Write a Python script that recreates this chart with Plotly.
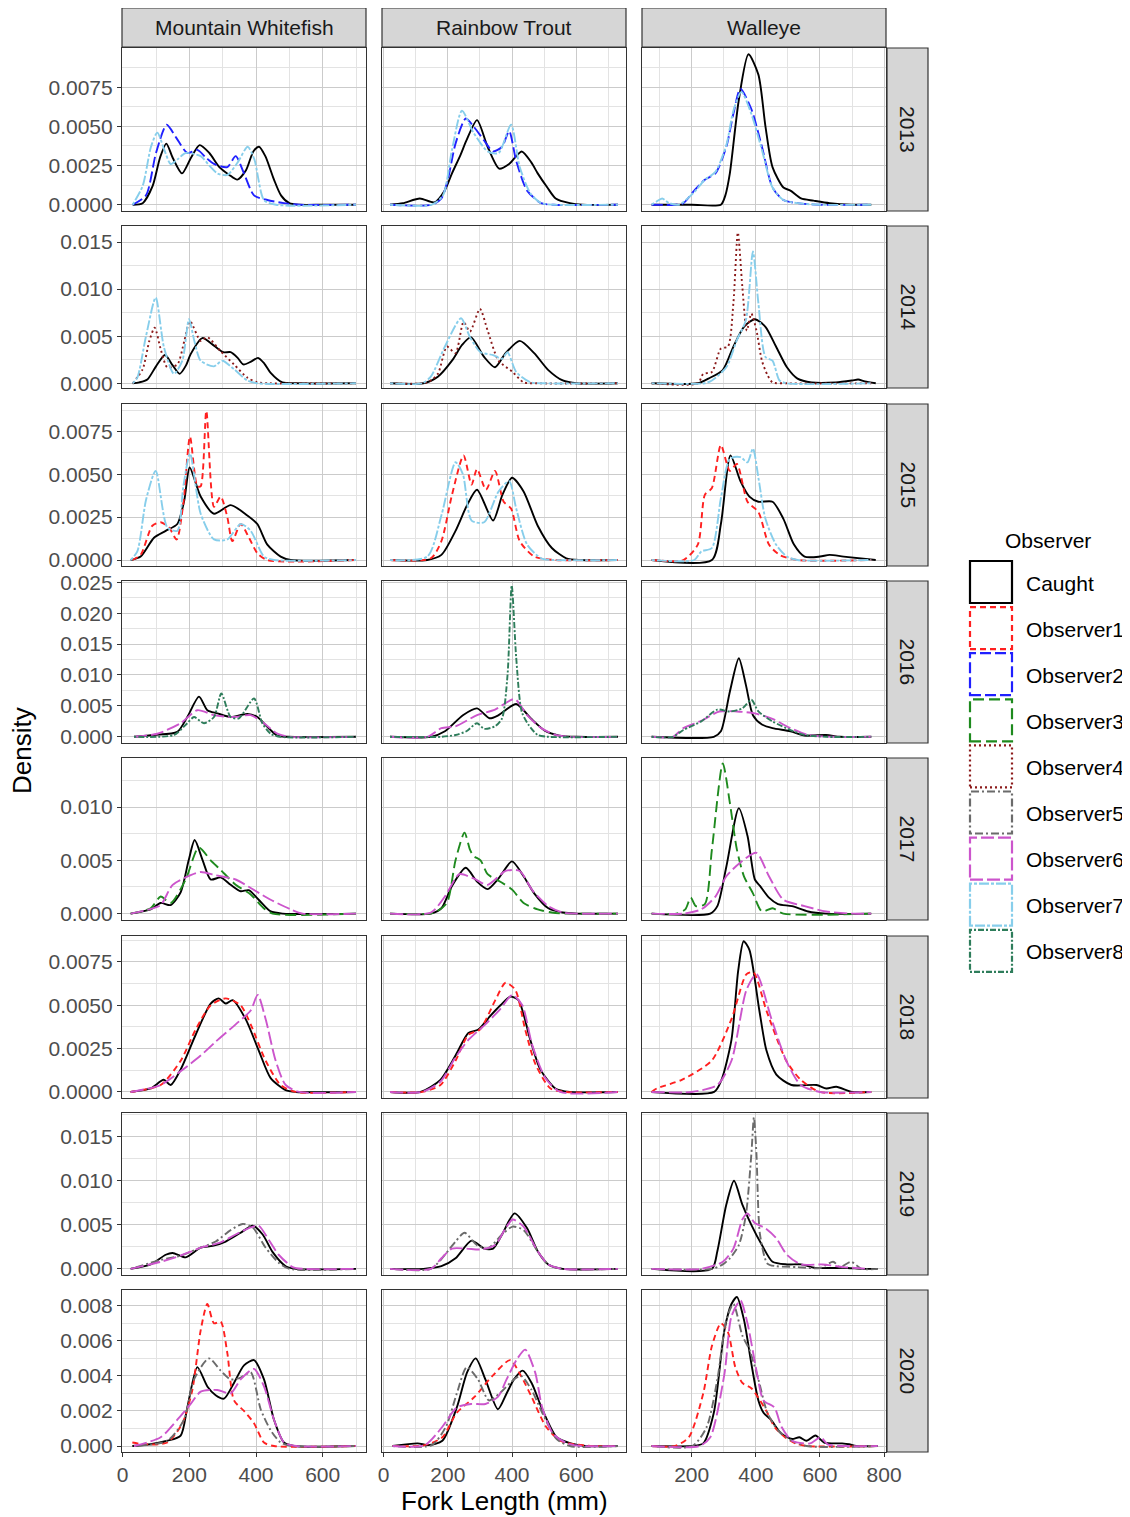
import plotly.graph_objects as go

# ---------------- data ----------------
SPECIES = ["Mountain Whitefish", "Rainbow Trout", "Walleye"]
YEARS = [2013, 2014, 2015, 2016, 2017, 2018, 2019, 2020]
OBSERVERS = ["Caught", "Observer1", "Observer2", "Observer3", "Observer4",
             "Observer5", "Observer6", "Observer7", "Observer8"]

X_TICKS = [[0, 200, 400, 600], [0, 200, 400, 600], [200, 400, 600, 800]]
Y_TICKS = [
    [0.0, 0.0025, 0.005, 0.0075],
    [0.0, 0.005, 0.010, 0.015],
    [0.0, 0.0025, 0.005, 0.0075],
    [0.0, 0.005, 0.010, 0.015, 0.020, 0.025],
    [0.0, 0.005, 0.010],
    [0.0, 0.0025, 0.005, 0.0075],
    [0.0, 0.005, 0.010, 0.015],
    [0.0, 0.002, 0.004, 0.006, 0.008],
]
Y_TICK_TEXT = [
    ["0.0000", "0.0025", "0.0050", "0.0075"],
    ["0.000", "0.005", "0.010", "0.015"],
    ["0.0000", "0.0025", "0.0050", "0.0075"],
    ["0.000", "0.005", "0.010", "0.015", "0.020", "0.025"],
    ["0.000", "0.005", "0.010"],
    ["0.0000", "0.0025", "0.0050", "0.0075"],
    ["0.000", "0.005", "0.010", "0.015"],
    ["0.000", "0.002", "0.004", "0.006", "0.008"],
]

# (fork length mm, density) points of each density curve
MW_2013_Caught = [(30,0),(60,0.0001),(90,0.0012),(112,0.003),(131,0.0039),(150,0.003),(178,0.002),(205,0.003),(231,0.0038),(260,0.0033),(290,0.0024),(320,0.0019),(344,0.0016),(370,0.0022),(392,0.0034),(409,0.0037),(428,0.0031),(454,0.0016),(475,0.0006),(500,0.0001),(530,0),(600,0),(700,0)]
MW_2013_Obs2 = [(30,0),(70,0.0006),(100,0.0033),(132,0.0051),(160,0.0043),(194,0.0033),(224,0.0035),(250,0.003),(274,0.0026),(314,0.0024),(339,0.0031),(364,0.002),(394,0.0006),(434,0.0003),(484,0.0001),(530,0),(700,0)]
MW_2013_Obs7 = [(30,0),(60,0.0012),(85,0.0037),(104,0.0046),(125,0.0035),(144,0.0026),(165,0.0029),(189,0.0033),(234,0.0031),(260,0.0025),(284,0.002),(314,0.0019),(345,0.0027),(375,0.0037),(395,0.0029),(424,0.0003),(460,0),(700,0)]
RT_2013_Caught = [(20,0),(60,0.0001),(113,0.0004),(158,0.00015),(190,0.0009),(213,0.002),(240,0.0032),(258,0.0041),(291,0.0054),(324,0.0037),(360,0.0023),(391,0.0026),(430,0.0034),(460,0.0027),(480,0.002),(510,0.0011),(536,0.0004),(580,0.0001),(620,0),(730,0)]
RT_2013_Obs2 = [(20,0),(150,0),(180,0.0004),(200,0.0016),(224,0.0039),(256,0.0055),(280,0.005),(313,0.0041),(341,0.0034),(369,0.0037),(391,0.0047),(413,0.0028),(447,0.0009),(491,0.0001),(530,0),(730,0)]
RT_2013_Obs7 = [(20,0),(150,0),(185,0.0006),(213,0.0035),(244,0.006),(280,0.0046),(324,0.0034),(358,0.0033),(397,0.0051),(424,0.0024),(458,0.0007),(491,0.0001),(530,0),(730,0)]
WE_2013_Caught = [(75,0),(200,0),(291,0),(305,0.0006),(319,0.002),(347,0.0067),(377,0.0096),(408,0.0083),(430,0.005),(452,0.0024),(486,0.0011),(508,0.0009),(541,0.0004),(580,0.00026),(630,0.0001),(700,0),(760,0)]
WE_2013_Obs2 = [(75,0),(150,0),(174,0.0001),(208,0.0009),(241,0.0016),(274,0.002),(308,0.0037),(330,0.0058),(352,0.0074),(386,0.0061),(419,0.0037),(452,0.0011),(486,0.0003),(530,0.0001),(600,0),(760,0)]
WE_2013_Obs7 = [(75,0),(90,0.0002),(108,0.0004),(130,0.0001),(160,0),(208,0.0008),(241,0.0016),(274,0.0021),(308,0.0038),(330,0.006),(355,0.0072),(386,0.0058),(419,0.0035),(452,0.0011),(486,0.0003),(530,0.0001),(600,0),(760,0)]

MW_2014_Caught = [(30,0),(50,0.0001),(74,0.0004),(100,0.0018),(127,0.003),(150,0.0019),(171,0.001),(190,0.0019),(204,0.0031),(239,0.0048),(274,0.004),(302,0.0033),(324,0.0033),(345,0.0027),(362,0.002),(385,0.0023),(406,0.0027),(425,0.0021),(444,0.0011),(479,0.0001),(520,0),(700,0)]
MW_2014_Obs4 = [(30,0),(60,0.0015),(80,0.0045),(96,0.0059),(115,0.0035),(134,0.0017),(164,0.002),(185,0.0045),(202,0.0066),(234,0.0045),(254,0.0049),(294,0.0034),(334,0.002),(374,0.0006),(404,0.0001),(440,0),(700,0)]
MW_2014_Obs7 = [(30,0),(44,0.0006),(70,0.005),(99,0.0091),(124,0.0038),(154,0.001),(179,0.0024),(199,0.0068),(215,0.0045),(234,0.0024),(274,0.0018),(299,0.0024),(334,0.0015),(374,0.0003),(404,0),(700,0)]
RT_2014_Caught = [(20,0),(124,0),(169,0.0007),(213,0.0024),(245,0.0041),(272,0.0049),(313,0.0028),(347,0.0017),(380,0.0032),(424,0.0045),(469,0.0032),(513,0.0014),(558,0.0003),(602,0),(730,0)]
RT_2014_Obs4 = [(20,0),(136,0.0001),(169,0.001),(197,0.0039),(224,0.0032),(249,0.0065),(269,0.0055),(300,0.0079),(324,0.0056),(358,0.0024),(402,0.0012),(436,0.0001),(480,0),(730,0)]
RT_2014_Obs7 = [(20,0),(120,0),(147,0.0007),(191,0.0039),(241,0.0069),(269,0.0049),(302,0.0033),(341,0.003),(369,0.0026),(386,0.0033),(413,0.0012),(458,0.0001),(500,0),(730,0)]
WE_2014_Caught = [(75,0),(219,0),(252,0.0005),(297,0.0014),(330,0.0039),(363,0.006),(397,0.0068),(430,0.006),(463,0.0039),(497,0.0017),(530,0.0005),(574,0.0001),(650,0.0001),(700,0.0003),(719,0.0004),(740,0.0002),(774,0)]
WE_2014_Obs4 = [(75,0),(219,0),(236,0.001),(263,0.0012),(291,0.0037),(313,0.0039),(330,0.0085),(344,0.016),(358,0.0102),(372,0.0056),(386,0.0074),(402,0.0056),(419,0.0024),(436,0.0009),(452,0.0001),(500,0),(760,0)]
WE_2014_Obs7 = [(75,0),(240,0),(263,0.0003),(308,0.0017),(341,0.0046),(369,0.0067),(391,0.014),(408,0.0085),(430,0.0028),(452,0.0024),(474,0.0003),(497,0),(760,0)]

MW_2015_Caught = [(24,0),(54,0.0002),(94,0.0013),(129,0.0017),(164,0.0021),(185,0.0035),(201,0.0054),(234,0.0037),(274,0.0027),(324,0.0032),(374,0.0026),(404,0.0021),(434,0.0009),(474,0.0002),(504,0),(700,0)]
MW_2015_Obs1 = [(29,0),(54,0.0003),(89,0.002),(114,0.0022),(139,0.0019),(162,0.0012),(182,0.0033),(202,0.0072),(224,0.0043),(234,0.0043),(251,0.0087),(274,0.0031),(294,0.0037),(314,0.0025),(329,0.0011),(354,0.0021),(379,0.0013),(404,0.0004),(434,0),(700,0)]
MW_2015_Obs7 = [(24,0),(44,0.0005),(70,0.0035),(99,0.0052),(134,0.0019),(164,0.0017),(182,0.0043),(202,0.0062),(234,0.0027),(274,0.0012),(314,0.0012),(354,0.0021),(384,0.0017),(424,0.0002),(454,0),(700,0)]
RT_2015_Caught = [(20,0),(136,0),(180,0.0003),(224,0.0017),(260,0.0032),(291,0.0041),(341,0.0023),(370,0.0038),(400,0.0048),(436,0.004),(480,0.002),(524,0.0007),(569,0.0001),(613,0),(730,0)]
RT_2015_Obs1 = [(20,0),(147,0.0001),(180,0.0011),(213,0.0038),(249,0.0061),(274,0.0044),(291,0.0053),(319,0.0041),(347,0.0052),(374,0.0034),(397,0.003),(424,0.0011),(469,0.0002),(536,0),(730,0)]
RT_2015_Obs7 = [(20,0),(136,0.0002),(180,0.0026),(224,0.0057),(247,0.005),(274,0.0023),(313,0.0022),(358,0.004),(391,0.0046),(413,0.003),(447,0.0009),(491,0.0001),(530,0),(730,0)]
WE_2015_Caught = [(75,0),(263,0),(291,0.0021),(321,0.0061),(352,0.0046),(380,0.0037),(408,0.0034),(452,0.0034),(486,0.0024),(519,0.0009),(552,0.0002),(600,0.0002),(630,0.0003),(674,0.0002),(774,0)]
WE_2015_Obs1 = [(75,0),(174,0),(219,0.0009),(241,0.0038),(263,0.0042),(291,0.0067),(319,0.0052),(341,0.0056),(374,0.0034),(408,0.0028),(441,0.0009),(474,0.0003),(530,0),(760,0)]
WE_2015_Obs7 = [(75,0),(208,0),(230,0.0005),(263,0.0007),(291,0.0036),(319,0.0059),(352,0.006),(374,0.0057),(391,0.0065),(408,0.0048),(430,0.0024),(463,0.0009),(497,0.0002),(530,0),(760,0)]

MW_2016_Caught = [(34,0),(94,0.0003),(164,0.0008),(194,0.0032),(229,0.0065),(254,0.0043),(284,0.0038),(324,0.0032),(374,0.0037),(404,0.0032),(434,0.0016),(464,0.0002),(494,0),(700,0)]
MW_2016_Obs6 = [(34,0),(104,0.0005),(174,0.0022),(224,0.0043),(274,0.0035),(334,0.0032),(384,0.0035),(424,0.0022),(464,0.0005),(504,0),(700,0)]
MW_2016_Obs8 = [(34,0),(154,0.0003),(194,0.0022),(214,0.0032),(244,0.0022),(274,0.0032),(296,0.007),(324,0.0032),(349,0.003),(394,0.0062),(419,0.0022),(444,0.0005),(474,0),(700,0)]
RT_2016_Caught = [(20,0),(147,0),(191,0.0009),(247,0.0035),(291,0.0046),(330,0.003),(358,0.0035),(413,0.0053),(458,0.003),(502,0.001),(547,0.0002),(602,0),(730,0)]
RT_2016_Obs6 = [(20,0),(136,0),(180,0.0014),(224,0.0017),(291,0.0035),(347,0.0044),(408,0.0061),(447,0.0035),(491,0.0014),(536,0.0003),(580,0),(730,0)]
RT_2016_Obs8 = [(20,0),(180,0),(224,0.0003),(258,0.0009),(291,0.0022),(313,0.0013),(347,0.0017),(369,0.003),(386,0.01),(399,0.0245),(413,0.0128),(430,0.0041),(452,0.0019),(480,0.0003),(513,0),(730,0)]
WE_2016_Caught = [(75,0),(269,0),(291,0.0009),(319,0.0073),(347,0.0127),(369,0.0084),(391,0.0035),(419,0.002),(452,0.0014),(508,0.0009),(552,0.0002),(619,0.0003),(663,0),(760,0)]
WE_2016_Obs6 = [(75,0),(141,0),(174,0.0014),(230,0.0026),(286,0.0041),(341,0.0041),(397,0.0038),(452,0.0029),(508,0.0014),(563,0.0003),(641,0),(760,0)]
WE_2016_Obs8 = [(75,0),(141,0),(174,0.0011),(230,0.0025),(280,0.0044),(319,0.0041),(358,0.0046),(386,0.006),(408,0.0041),(452,0.0025),(508,0.0011),(552,0.0003),(619,0),(760,0)]

MW_2017_Caught = [(24,0),(84,0.0004),(114,0.001),(144,0.0008),(174,0.002),(198,0.005),(216,0.0069),(240,0.005),(264,0.0032),(294,0.0034),(324,0.0027),(354,0.0021),(378,0.0022),(408,0.0013),(444,0.0002),(480,0),(700,0)]
MW_2017_Obs3 = [(24,0),(84,0.0005),(114,0.0016),(144,0.001),(189,0.0032),(228,0.0062),(264,0.005),(294,0.0041),(339,0.0027),(384,0.0018),(420,0.0006),(450,0),(700,0)]
MW_2017_Obs6 = [(24,0),(80,0.0004),(114,0.0008),(150,0.0027),(204,0.0036),(234,0.0039),(279,0.0036),(339,0.0032),(384,0.0024),(444,0.0013),(504,0.0004),(540,0),(700,0)]
RT_2017_Caught = [(20,0),(147,0),(180,0.0005),(213,0.0026),(256,0.0043),(291,0.003),(324,0.0023),(358,0.0033),(400,0.0049),(436,0.0035),(469,0.0019),(513,0.0005),(558,0.0001),(602,0),(730,0)]
RT_2017_Obs3 = [(20,0),(158,0.0001),(197,0.001),(224,0.005),(252,0.0076),(269,0.006),(280,0.0054),(302,0.005),(324,0.0037),(369,0.0029),(402,0.0022),(436,0.001),(480,0.0004),(524,0.0001),(560,0),(730,0)]
RT_2017_Obs6 = [(20,0),(147,0.0001),(191,0.0016),(236,0.0037),(280,0.0033),(324,0.0027),(380,0.004),(424,0.004),(463,0.0022),(513,0.0007),(558,0.0001),(600,0),(730,0)]
WE_2017_Caught = [(75,0),(258,0),(280,0.0007),(308,0.0044),(347,0.0099),(374,0.0073),(397,0.0032),(413,0.0026),(441,0.0015),(469,0.0009),(513,0.0007),(563,0.0002),(619,0),(760,0)]
WE_2017_Obs3 = [(75,0),(152,0),(180,0.0004),(197,0.0015),(213,0.0007),(241,0.0009),(263,0.006),(297,0.0141),(319,0.0104),(341,0.006),(363,0.0035),(391,0.0019),(419,0.0002),(452,0.0005),(486,0),(760,0)]
WE_2017_Obs6 = [(75,0),(174,0),(230,0.0004),(274,0.0016),(308,0.0035),(352,0.0048),(402,0.0057),(441,0.0035),(486,0.0013),(552,0.0007),(619,0.0002),(697,0),(760,0)]

MW_2018_Caught = [(24,0),(84,0.0002),(123,0.0007),(144,0.0004),(174,0.0013),(219,0.0033),(264,0.0051),(288,0.0054),(309,0.0051),(330,0.0053),(369,0.0042),(408,0.0024),(444,0.0008),(489,0.0001),(520,0),(700,0)]
MW_2018_Obs1 = [(24,0),(114,0.0004),(174,0.0018),(219,0.0036),(264,0.005),(309,0.0054),(354,0.005),(384,0.0039),(429,0.0018),(474,0.0004),(520,0),(700,0)]
MW_2018_Obs6 = [(24,0),(114,0.0004),(174,0.0012),(234,0.0021),(279,0.0029),(339,0.0039),(384,0.0047),(405,0.0056),(429,0.0042),(459,0.0018),(489,0.0004),(530,0),(700,0)]
RT_2018_Caught = [(20,0),(115,0),(177,0.0007),(224,0.0021),(264,0.0034),(295,0.0036),(333,0.0044),(364,0.005),(395,0.0055),(420,0.0053),(457,0.003),(488,0.0013),(535,0.0002),(580,0),(730,0)]
RT_2018_Obs1 = [(20,0),(120,0),(177,0.0004),(224,0.0018),(264,0.0033),(300,0.0036),(348,0.0053),(380,0.0063),(410,0.0059),(441,0.0036),(473,0.0016),(520,0.0002),(570,0),(730,0)]
RT_2018_Obs6 = [(20,0),(120,0),(177,0.0006),(224,0.002),(264,0.003),(317,0.0039),(364,0.0048),(401,0.0056),(432,0.005),(463,0.0027),(504,0.0008),(550,0),(730,0)]
WE_2018_Caught = [(75,0),(270,0),(293,0.0007),(324,0.003),(345,0.007),(362,0.0087),(380,0.0082),(411,0.0047),(433,0.0024),(464,0.001),(511,0.0004),(589,0.0004),(620,0.0002),(651,0.0003),(700,0),(760,0)]
WE_2018_Obs1 = [(75,0),(91,0.0002),(169,0.0007),(262,0.0018),(324,0.0042),(371,0.0068),(393,0.0069),(433,0.0047),(495,0.0018),(540,0.0007),(600,0),(760,0)]
WE_2018_Obs6 = [(75,0),(200,0),(280,0.0004),(324,0.0018),(371,0.0059),(402,0.0068),(449,0.0042),(495,0.0018),(540,0.0004),(600,0),(760,0)]

MW_2019_Caught = [(24,0),(84,0.0005),(129,0.0016),(150,0.0018),(189,0.0013),(234,0.0024),(270,0.0026),(309,0.0031),(354,0.0041),(390,0.0049),(420,0.0039),(450,0.0019),(489,0.0003),(520,0),(700,0)]
MW_2019_Obs5 = [(24,0),(114,0.001),(174,0.0015),(234,0.0024),(279,0.0031),(324,0.0044),(360,0.0051),(390,0.0047),(429,0.0024),(468,0.0007),(500,0),(700,0)]
MW_2019_Obs6 = [(24,0),(114,0.0008),(174,0.0015),(234,0.0024),(294,0.003),(339,0.0039),(384,0.0047),(408,0.0049),(438,0.0033),(468,0.0016),(510,0.0002),(540,0),(700,0)]
RT_2019_Caught = [(20,0),(124,0),(180,0.0003),(224,0.0012),(274,0.0032),(313,0.0023),(341,0.0023),(369,0.0039),(408,0.0063),(447,0.0046),(480,0.002),(513,0.0005),(558,0),(730,0)]
RT_2019_Obs5 = [(20,0),(147,0),(191,0.0016),(224,0.0031),(252,0.0041),(291,0.0027),(324,0.0023),(369,0.0039),(402,0.0048),(436,0.0044),(480,0.002),(513,0.0005),(558,0),(730,0)]
RT_2019_Obs6 = [(20,0),(147,0),(180,0.0012),(213,0.0023),(258,0.0023),(302,0.0022),(347,0.0027),(380,0.0046),(402,0.0056),(436,0.0048),(480,0.002),(513,0.0005),(558,0),(730,0)]
WE_2019_Caught = [(75,0),(263,0),(280,0.002),(308,0.0073),(332,0.01),(358,0.0073),(386,0.005),(419,0.0027),(452,0.0008),(497,0.0005),(541,0.0005),(586,0.0001),(641,0.0001),(686,0.0001),(730,0),(780,0)]
WE_2019_Obs5 = [(75,0),(263,0),(297,0.0005),(319,0.0012),(347,0.0027),(369,0.0061),(386,0.013),(394,0.0172),(402,0.013),(413,0.0039),(436,0.0006),(463,0.0003),(530,0.0002),(600,0.0001),(641,0.0008),(663,0.0002),(697,0.0008),(730,0),(780,0)]
WE_2019_Obs6 = [(75,0),(230,0),(297,0.0008),(330,0.0023),(358,0.0056),(374,0.0063),(397,0.0052),(430,0.0046),(463,0.0035),(497,0.0016),(541,0.0005),(608,0.0005),(674,0.0002),(752,0)]

MW_2020_Caught = [(29,0),(84,0.0001),(134,0.0003),(174,0.0006),(194,0.0022),(224,0.0045),(254,0.0034),(279,0.0029),(304,0.0027),(334,0.0036),(364,0.0046),(394,0.0049),(424,0.0038),(454,0.0015),(484,0.0002),(514,0),(700,0)]
MW_2020_Obs1 = [(29,0.0002),(64,0.0001),(134,0.0002),(179,0.0013),(209,0.0032),(234,0.0066),(254,0.0081),(274,0.007),(294,0.0071),(314,0.0053),(334,0.0026),(364,0.002),(394,0.0013),(424,0.0002),(454,0),(700,0)]
MW_2020_Obs5 = [(34,0),(134,0.0003),(184,0.0015),(214,0.0038),(259,0.005),(294,0.0043),(324,0.0038),(354,0.0039),(384,0.0042),(414,0.0021),(444,0.0009),(474,0.0002),(510,0),(700,0)]
MW_2020_Obs6 = [(34,0),(114,0.0005),(164,0.0015),(204,0.0024),(234,0.0031),(284,0.0032),(324,0.003),(354,0.0038),(394,0.0044),(424,0.0034),(454,0.0015),(484,0.0002),(520,0),(700,0)]
RT_2020_Caught = [(28,0),(106,0.00015),(139,0.00005),(183,0.0003),(228,0.0022),(260,0.0042),(287,0.005),(317,0.0038),(356,0.0021),(383,0.003),(406,0.0038),(433,0.0043),(461,0.0036),(494,0.0021),(539,0.0005),(583,0.00015),(628,0),(730,0)]
RT_2020_Obs1 = [(28,0),(128,0.00005),(183,0.0005),(228,0.0019),(283,0.0028),(339,0.004),(394,0.0049),(428,0.004),(461,0.0028),(506,0.0011),(550,0.0003),(594,0.0001),(650,0),(730,0)]
RT_2020_Obs5 = [(28,0),(150,0.00005),(194,0.0011),(228,0.003),(259,0.0045),(294,0.0038),(328,0.0026),(361,0.003),(406,0.0038),(428,0.004),(461,0.0032),(494,0.0019),(539,0.0004),(580,0),(730,0)]
RT_2020_Obs6 = [(28,0),(128,0.00005),(183,0.0011),(228,0.0022),(272,0.0024),(317,0.0024),(356,0.0028),(383,0.0038),(417,0.005),(441,0.0055),(472,0.0042),(494,0.0022),(528,0.0007),(572,0.00015),(620,0),(730,0)]
WE_2020_Caught = [(75,0),(202,0),(236,0.00015),(269,0.0019),(302,0.0066),(324,0.0081),(341,0.0085),(363,0.0072),(386,0.0047),(408,0.0026),(424,0.0019),(447,0.0015),(480,0.0007),(513,0.0004),(536,0.0005),(558,0.0003),(586,0.0006),(613,0.0002),(669,0.00015),(691,0.0001),(713,0),(780,0)]
WE_2020_Obs1 = [(75,0),(147,0),(191,0.0005),(236,0.003),(263,0.0057),(291,0.007),(313,0.0065),(336,0.0045),(358,0.0036),(386,0.0033),(413,0.0026),(436,0.0019),(458,0.0011),(491,0.0005),(524,0.00015),(560,0),(780,0)]
WE_2020_Obs5 = [(75,0),(202,0),(247,0.0011),(280,0.0038),(308,0.0072),(330,0.0081),(358,0.0063),(380,0.0055),(408,0.0038),(436,0.0019),(469,0.0009),(513,0.0003),(558,0),(780,0)]
WE_2020_Obs6 = [(75,0),(224,0),(258,0.0005),(302,0.0041),(324,0.0074),(352,0.0083),(374,0.007),(402,0.0043),(424,0.0026),(458,0.0022),(480,0.0011),(513,0.0003),(569,0.00015),(602,0.0005),(624,0.0001),(680,0),(780,0)]

# which curves belong to which panel (species index, year) -> [(observer, points)]
PANELS = {
    (0, 2013): [("Caught", MW_2013_Caught), ("Observer2", MW_2013_Obs2), ("Observer7", MW_2013_Obs7)],
    (1, 2013): [("Caught", RT_2013_Caught), ("Observer2", RT_2013_Obs2), ("Observer7", RT_2013_Obs7)],
    (2, 2013): [("Caught", WE_2013_Caught), ("Observer2", WE_2013_Obs2), ("Observer7", WE_2013_Obs7)],
    (0, 2014): [("Caught", MW_2014_Caught), ("Observer4", MW_2014_Obs4), ("Observer7", MW_2014_Obs7)],
    (1, 2014): [("Caught", RT_2014_Caught), ("Observer4", RT_2014_Obs4), ("Observer7", RT_2014_Obs7)],
    (2, 2014): [("Caught", WE_2014_Caught), ("Observer4", WE_2014_Obs4), ("Observer7", WE_2014_Obs7)],
    (0, 2015): [("Caught", MW_2015_Caught), ("Observer1", MW_2015_Obs1), ("Observer7", MW_2015_Obs7)],
    (1, 2015): [("Caught", RT_2015_Caught), ("Observer1", RT_2015_Obs1), ("Observer7", RT_2015_Obs7)],
    (2, 2015): [("Caught", WE_2015_Caught), ("Observer1", WE_2015_Obs1), ("Observer7", WE_2015_Obs7)],
    (0, 2016): [("Caught", MW_2016_Caught), ("Observer6", MW_2016_Obs6), ("Observer8", MW_2016_Obs8)],
    (1, 2016): [("Caught", RT_2016_Caught), ("Observer6", RT_2016_Obs6), ("Observer8", RT_2016_Obs8)],
    (2, 2016): [("Caught", WE_2016_Caught), ("Observer6", WE_2016_Obs6), ("Observer8", WE_2016_Obs8)],
    (0, 2017): [("Caught", MW_2017_Caught), ("Observer3", MW_2017_Obs3), ("Observer6", MW_2017_Obs6)],
    (1, 2017): [("Caught", RT_2017_Caught), ("Observer3", RT_2017_Obs3), ("Observer6", RT_2017_Obs6)],
    (2, 2017): [("Caught", WE_2017_Caught), ("Observer3", WE_2017_Obs3), ("Observer6", WE_2017_Obs6)],
    (0, 2018): [("Caught", MW_2018_Caught), ("Observer1", MW_2018_Obs1), ("Observer6", MW_2018_Obs6)],
    (1, 2018): [("Caught", RT_2018_Caught), ("Observer1", RT_2018_Obs1), ("Observer6", RT_2018_Obs6)],
    (2, 2018): [("Caught", WE_2018_Caught), ("Observer1", WE_2018_Obs1), ("Observer6", WE_2018_Obs6)],
    (0, 2019): [("Caught", MW_2019_Caught), ("Observer5", MW_2019_Obs5), ("Observer6", MW_2019_Obs6)],
    (1, 2019): [("Caught", RT_2019_Caught), ("Observer5", RT_2019_Obs5), ("Observer6", RT_2019_Obs6)],
    (2, 2019): [("Caught", WE_2019_Caught), ("Observer5", WE_2019_Obs5), ("Observer6", WE_2019_Obs6)],
    (0, 2020): [("Caught", MW_2020_Caught), ("Observer1", MW_2020_Obs1), ("Observer5", MW_2020_Obs5), ("Observer6", MW_2020_Obs6)],
    (1, 2020): [("Caught", RT_2020_Caught), ("Observer1", RT_2020_Obs1), ("Observer5", RT_2020_Obs5), ("Observer6", RT_2020_Obs6)],
    (2, 2020): [("Caught", WE_2020_Caught), ("Observer1", WE_2020_Obs1), ("Observer5", WE_2020_Obs5), ("Observer6", WE_2020_Obs6)],
}

# ---------------- styles & layout ----------------
COLORS = {"Caught": "#000000", "Observer1": "#FF2020", "Observer2": "#2020FF",
          "Observer3": "#1E8A1E", "Observer4": "#8B1A1A", "Observer5": "#6B6B6B",
          "Observer6": "#CC55CC", "Observer7": "#87CEEB", "Observer8": "#2E7D5B"}
DASHES = {"Caught": "solid", "Observer1": "6px,4px", "Observer2": "11px,4px",
          "Observer3": "11px,5px", "Observer4": "2px,3px", "Observer5": "2px,3px,8px,3px",
          "Observer6": "13px,4px", "Observer7": "3px,2px,10px,2px", "Observer8": "2px,2px,6px,2px"}

PAGE_OFFSET = 8          # the page body margin in the browser
W, H = 1130 - PAGE_OFFSET, 1517 - PAGE_OFFSET
COL_PX = [(122, 366), (382, 626), (642, 886)]
ROW_PX = [(48, 211), (226, 388), (404, 566), (581, 743), (758, 920), (936, 1098), (1113, 1275), (1290, 1452)]
X_RANGES = [[-2, 730], [-5, 755], [45, 806]]
Y_RANGES = [[-0.0004, 0.0100], [-0.0005, 0.0167], [-0.00035, 0.0091], [-0.001, 0.0252],
            [-0.0006, 0.0146], [-0.00035, 0.0090], [-0.0007, 0.0177], [-0.00034, 0.0089]]
FONT = "Liberation Sans, Arial, sans-serif"
GRID_MAJOR = "#CBCBCB"
GRID_MINOR = "#E3E3E3"
BORDER = "#333333"
TICK_SIZE = 21
STRIP_SIZE = 21
TITLE_SIZE = 26


def px_x(p):
    return (p - PAGE_OFFSET) / W


def px_y(p):
    return 1 - (p - PAGE_OFFSET) / H


fig = go.Figure()
layout = dict(width=W, height=H,
              margin=dict(l=0, r=0, t=0, b=0, pad=0, autoexpand=False),
              paper_bgcolor="white", plot_bgcolor="white", showlegend=False,
              font=dict(family=FONT), template="none")

for r, year in enumerate(YEARS):
    for c in range(3):
        k = r * 3 + c + 1
        s = "" if k == 1 else str(k)
        x0, x1 = COL_PX[c]
        y0, y1 = ROW_PX[r]
        ystep = Y_TICKS[r][1] - Y_TICKS[r][0]
        layout["xaxis" + s] = dict(
            domain=[px_x(x0), px_x(x1)], anchor="y" + s, range=X_RANGES[c],
            tickmode="array", tickvals=X_TICKS[c], ticktext=[str(v) for v in X_TICKS[c]],
            showticklabels=(r == len(YEARS) - 1), ticks="outside" if r == len(YEARS) - 1 else "",
            ticklen=4, tickcolor=BORDER, tickwidth=1, automargin=False,
            tickfont=dict(size=TICK_SIZE, color="#4D4D4D", family=FONT),
            showgrid=True, gridcolor=GRID_MAJOR, gridwidth=1.3,
            minor=dict(tick0=0, dtick=100, showgrid=True, gridcolor=GRID_MINOR, gridwidth=0.8),
            showline=True, mirror=True, linecolor=BORDER, linewidth=1.2,
            zeroline=False, fixedrange=True)
        layout["yaxis" + s] = dict(
            domain=[px_y(y1), px_y(y0)], anchor="x" + s, range=Y_RANGES[r],
            tickmode="array", tickvals=Y_TICKS[r], ticktext=Y_TICK_TEXT[r],
            showticklabels=(c == 0), ticks="outside" if c == 0 else "",
            ticklen=4, tickcolor=BORDER, tickwidth=1, automargin=False,
            tickfont=dict(size=TICK_SIZE, color="#4D4D4D", family=FONT),
            showgrid=True, gridcolor=GRID_MAJOR, gridwidth=1.3,
            minor=dict(tick0=0, dtick=ystep / 2, showgrid=True, gridcolor=GRID_MINOR, gridwidth=0.8),
            showline=True, mirror=True, linecolor=BORDER, linewidth=1.2,
            zeroline=False, fixedrange=True)
        for obs, pts in PANELS[(c, year)]:
            fig.add_trace(go.Scatter(
                x=[p[0] for p in pts], y=[p[1] for p in pts],
                mode="lines", name=obs, xaxis="x" + s, yaxis="y" + s,
                line=dict(color=COLORS[obs], width=1.9, dash=DASHES[obs],
                          shape="spline", smoothing=0.7),
                hoverinfo="skip", showlegend=False))

shapes = []
annotations = []
# top strips
for c, sp in enumerate(SPECIES):
    x0, x1 = COL_PX[c]
    shapes.append(dict(type="rect", xref="paper", yref="paper",
                       x0=px_x(x0), x1=px_x(x1), y0=px_y(47), y1=px_y(8),
                       fillcolor="#D6D6D6", line=dict(color=BORDER, width=1.2)))
    annotations.append(dict(text=sp, xref="paper", yref="paper", x=px_x((x0 + x1) / 2),
                            y=px_y(28), showarrow=False, xanchor="center", yanchor="middle",
                            font=dict(size=STRIP_SIZE, color="#1A1A1A", family=FONT)))
# right strips
for r, year in enumerate(YEARS):
    y0, y1 = ROW_PX[r]
    shapes.append(dict(type="rect", xref="paper", yref="paper",
                       x0=px_x(887), x1=px_x(928), y0=px_y(y1), y1=px_y(y0),
                       fillcolor="#D6D6D6", line=dict(color=BORDER, width=1.2)))
    annotations.append(dict(text=str(year), xref="paper", yref="paper", x=px_x(907.5),
                            y=px_y((y0 + y1) / 2), showarrow=False, textangle=90,
                            xanchor="center", yanchor="middle",
                            font=dict(size=STRIP_SIZE, color="#1A1A1A", family=FONT)))

# axis titles
annotations.append(dict(text="Fork Length (mm)", xref="paper", yref="paper", x=px_x(504),
                        y=px_y(1501), showarrow=False, xanchor="center", yanchor="middle",
                        font=dict(size=TITLE_SIZE, color="#000000", family=FONT)))
annotations.append(dict(text="Density", xref="paper", yref="paper", x=px_x(22),
                        y=px_y(751), showarrow=False, textangle=-90, xanchor="center",
                        yanchor="middle", font=dict(size=TITLE_SIZE, color="#000000", family=FONT)))

# legend (drawn as keys + labels)
annotations.append(dict(text="Observer", xref="paper", yref="paper", x=px_x(1003),
                        y=px_y(540), showarrow=False, xanchor="left", yanchor="middle",
                        font=dict(size=21, color="#000000", family=FONT)))
for i, obs in enumerate(OBSERVERS):
    top = 561 + i * 46.1
    shapes.append(dict(type="rect", xref="paper", yref="paper",
                       x0=px_x(970), x1=px_x(1012), y0=px_y(top + 42), y1=px_y(top),
                       fillcolor="white",
                       line=dict(color=COLORS[obs], width=2.2, dash=DASHES[obs])))
    annotations.append(dict(text=obs, xref="paper", yref="paper", x=px_x(1024),
                            y=px_y(top + 22), showarrow=False, xanchor="left",
                            yanchor="middle",
                            font=dict(size=21, color="#000000", family=FONT)))

layout["shapes"] = shapes
layout["annotations"] = annotations
fig.update_layout(**layout)
fig.write_html("out.html")
